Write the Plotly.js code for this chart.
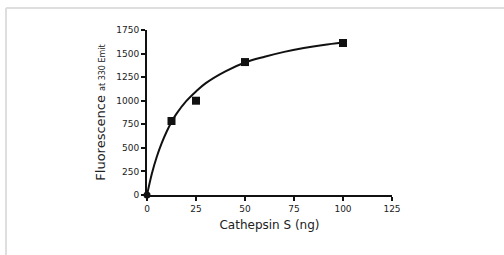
<!DOCTYPE html>
<html><head><meta charset="utf-8">
<script src="https://cdn.plot.ly/plotly-3.0.1.min.js"></script>
<style>html,body{margin:0;padding:0;background:#fff;}#c{width:504px;height:255px;}</style>
</head><body><div id="c"></div>
<script>
// Measured data (Cathepsin S amount vs fluorescence)
const dataX = [12.5, 25, 50, 100];
const dataY = [785, 1000, 1410, 1612];
const originX = [0];
const originY = [0];
// Fitted curve
const curveX = [0, 2.5, 5, 7.5, 10, 12.5, 15, 20, 25, 30, 40, 50, 60, 70, 80, 90, 100];
const curveY = [0, 228, 406, 550, 671, 775, 860, 995, 1098, 1186, 1311, 1405, 1466, 1518, 1559, 1592, 1618];
const xTicks = [0, 25, 50, 75, 100, 125];
const yTicks = [0, 250, 500, 750, 1000, 1250, 1500, 1750];

const font = {family: 'DejaVu Sans, Verdana, sans-serif', color: '#222'};
const traces = [
  {x: curveX, y: curveY, mode: 'lines', line: {color: '#111', width: 2, shape: 'spline', smoothing: 1}, hoverinfo: 'skip', cliponaxis: false},
  {x: dataX, y: dataY, mode: 'markers', marker: {symbol: 'square', size: 8, color: '#111'}, cliponaxis: false},
  {x: originX, y: originY, mode: 'markers', marker: {symbol: 'circle', size: 7, color: '#111'}, cliponaxis: false}
];
const layout = {
  width: 504, height: 255,
  margin: {l: 147, r: 112, t: 30, b: 60},
  paper_bgcolor: '#fff', plot_bgcolor: '#fff',
  showlegend: false,
  font: Object.assign({size: 9}, font),
  xaxis: {
    range: [0, 125], tickvals: xTicks, ticktext: xTicks.map(String),
    showgrid: false, zeroline: false, showline: true, linecolor: '#111', linewidth: 2,
    ticks: 'outside', ticklen: 4, tickwidth: 2, tickcolor: '#111',
    tickfont: Object.assign({size: 9}, font),
    title: {text: 'Cathepsin S (ng)', font: Object.assign({size: 12}, font), standoff: 8}
  },
  yaxis: {
    range: [0, 1750], tickvals: yTicks, ticktext: yTicks.map(String),
    showgrid: false, zeroline: false, showline: true, linecolor: '#111', linewidth: 2,
    ticks: 'outside', ticklen: 4, tickwidth: 2, tickcolor: '#111',
    tickfont: Object.assign({size: 9}, font),
    title: {text: 'Fluorescence <span style="font-size:8px">at 330 Emit</span>', font: Object.assign({size: 13}, font), standoff: 8}
  },
  shapes: [
    {type: 'line', xref: 'paper', yref: 'paper', x0: -0.5755, x1: 1.46, y0: 1.1333, y1: 1.1333, line: {color: '#dedede', width: 2}},
    {type: 'line', xref: 'paper', yref: 'paper', x0: -0.5755, x1: -0.5755, y0: 1.1333, y1: -0.37, line: {color: '#dedede', width: 2}}
  ]
};
Plotly.newPlot('c', traces, layout, {displayModeBar: false, staticPlot: true});
</script></body></html>
